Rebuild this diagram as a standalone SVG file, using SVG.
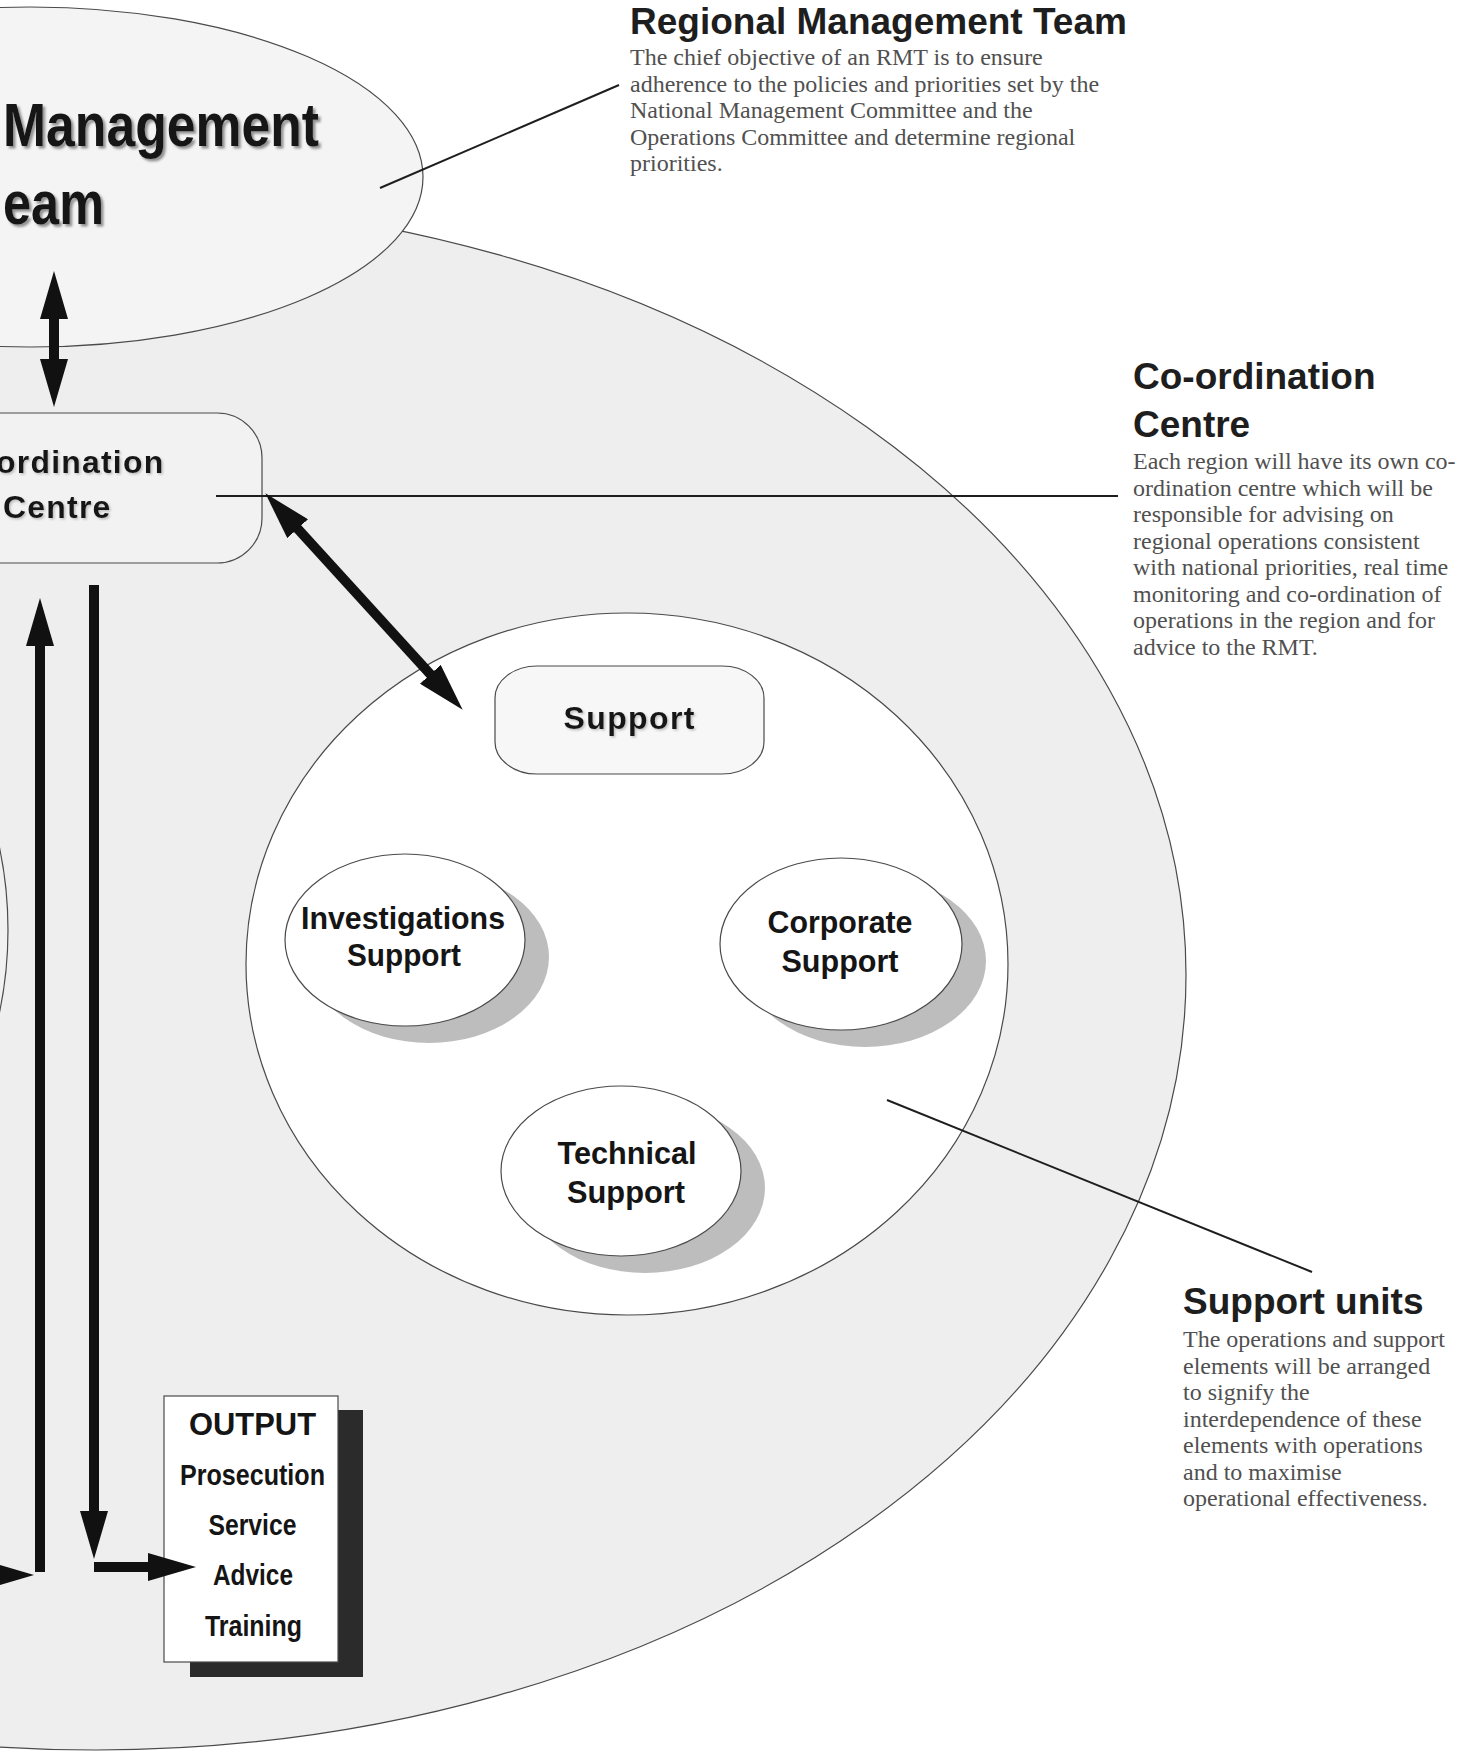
<svg xmlns="http://www.w3.org/2000/svg" width="1468" height="1755" viewBox="0 0 1468 1755">
<defs>
<style>
.outline{stroke:#4a4a4a;stroke-width:1.2}
.h{font-family:"Liberation Sans",Arial,sans-serif;font-weight:bold;font-size:37px;fill:#1e1e1e}
.b{font-family:"Liberation Serif","Times New Roman",serif;font-size:24px;fill:#505050}
.n{font-family:"Liberation Sans",Arial,sans-serif;font-weight:bold;fill:#151515}
.lab{font-size:32px;text-anchor:middle}
.out{font-size:29px;text-anchor:middle}
.callout{stroke:#1e1e1e;stroke-width:2;fill:none}
.arrow{stroke:#111;stroke-width:10;fill:none;marker-end:url(#head)}
.shadow{fill:#bdbdbd}
</style>
<marker id="head" markerUnits="userSpaceOnUse" markerWidth="50" markerHeight="28" refX="1" refY="14" orient="auto-start-reverse"><path d="M0,0 L48,14 L0,28 z" fill="#111"/></marker>
<filter id="ts" x="-5%" y="-20%" width="115%" height="150%"><feDropShadow dx="2.5" dy="2.5" stdDeviation="1.2" flood-color="#777" flood-opacity="0.8"/></filter>
<filter id="ts2" x="-5%" y="-20%" width="115%" height="150%"><feDropShadow dx="1.5" dy="1.5" stdDeviation="0.8" flood-color="#999" flood-opacity="0.6"/></filter>
</defs>
<rect x="0" y="0" width="1468" height="1755" fill="#ffffff"/>

<g id="region">
<ellipse class="outline" cx="96" cy="975" rx="1090" ry="775" fill="#eeeeee"/>
</g>
<g id="operations">
<ellipse class="outline" cx="-200" cy="930" rx="208" ry="291" fill="#f1f1f1"/>
</g>
<g id="rmt">
<ellipse class="outline" cx="30" cy="177" rx="393" ry="170" fill="#f4f4f4"/>
<text class="n" x="3" y="146" font-size="62" textLength="316" lengthAdjust="spacingAndGlyphs" filter="url(#ts)">Management</text>
<text class="n" x="3" y="224" font-size="62" textLength="101" lengthAdjust="spacingAndGlyphs" filter="url(#ts)">eam</text>
</g>
<g id="coord">
<rect class="outline" x="-60" y="413" width="322" height="150" rx="45" ry="45" fill="#f2f2f2"/>
<text class="n" x="-4" y="473" font-size="32" letter-spacing="1.2" filter="url(#ts2)">ordination</text>
<text class="n" x="3" y="518" font-size="32" letter-spacing="1.2" filter="url(#ts2)">Centre</text>
</g>
<g id="support-units">
<ellipse class="outline" cx="627" cy="964" rx="381" ry="351" fill="#ffffff"/>
</g>
<g id="support">
<rect class="outline" x="495" y="666" width="269" height="108" rx="42" ry="32" fill="#f7f7f7"/>
<text class="n" x="629" y="729" font-size="32" text-anchor="middle" textLength="131" lengthAdjust="spacing" filter="url(#ts2)">Support</text>
</g>
<g id="investigations">
<ellipse class="shadow" cx="429" cy="957" rx="120" ry="86"/>
<ellipse class="outline" cx="405" cy="940" rx="120" ry="86" fill="#ffffff"/>
<text class="n lab" x="403" y="929" textLength="204" lengthAdjust="spacingAndGlyphs">Investigations</text>
<text class="n lab" x="404" y="966" textLength="114" lengthAdjust="spacingAndGlyphs">Support</text>
</g>
<g id="corporate">
<ellipse class="shadow" cx="865" cy="961" rx="121" ry="86"/>
<ellipse class="outline" cx="841" cy="944" rx="121" ry="86" fill="#ffffff"/>
<text class="n lab" x="840" y="933" textLength="145" lengthAdjust="spacingAndGlyphs">Corporate</text>
<text class="n lab" x="840" y="972" textLength="117" lengthAdjust="spacingAndGlyphs">Support</text>
</g>
<g id="technical">
<ellipse class="shadow" cx="645" cy="1188" rx="120" ry="85"/>
<ellipse class="outline" cx="621" cy="1171" rx="120" ry="85" fill="#ffffff"/>
<text class="n lab" x="627" y="1164" textLength="139" lengthAdjust="spacingAndGlyphs">Technical</text>
<text class="n lab" x="626" y="1203" textLength="118" lengthAdjust="spacingAndGlyphs">Support</text>
</g>
<g id="output">
<rect x="190" y="1410" width="173" height="267" fill="#2b2b2b"/>
<rect class="outline" x="164" y="1396" width="174" height="266" fill="#ffffff"/>
<text class="n" x="252.5" y="1435" font-size="31" text-anchor="middle" textLength="127" lengthAdjust="spacingAndGlyphs">OUTPUT</text>
<text class="n out" x="252.5" y="1485" textLength="145" lengthAdjust="spacingAndGlyphs">Prosecution</text>
<text class="n out" x="252.5" y="1535" textLength="88" lengthAdjust="spacingAndGlyphs">Service</text>
<text class="n out" x="253" y="1585" textLength="80" lengthAdjust="spacingAndGlyphs">Advice</text>
<text class="n out" x="253.5" y="1636" textLength="97" lengthAdjust="spacingAndGlyphs">Training</text>
</g>

<g id="connectors">
<line class="callout" x1="380" y1="188" x2="619" y2="85"/>
<line class="callout" x1="216" y1="496" x2="1118" y2="496"/>
<line class="callout" x1="887" y1="1100" x2="1312" y2="1272"/>
<line class="arrow" x1="54" y1="318" x2="54" y2="360" stroke-width="8" marker-start="url(#head)"/>
<line class="arrow" x1="297" y1="528" x2="431" y2="675" marker-start="url(#head)"/>
<line class="arrow" x1="40" y1="1572" x2="40" y2="645"/>
<line class="arrow" x1="94" y1="585" x2="94" y2="1512"/>
<line class="arrow" x1="94" y1="1567" x2="149" y2="1567"/>
<line class="arrow" x1="-40" y1="1575" x2="-13" y2="1575"/>
</g>

<g id="note-rmt">
<text class="h" x="630" y="34">Regional Management Team</text>
<text class="b" x="630" y="65">The chief objective of an RMT is to ensure</text>
<text class="b" x="630" y="91.5">adherence to the policies and priorities set by the</text>
<text class="b" x="630" y="118">National Management Committee and the</text>
<text class="b" x="630" y="144.5">Operations Committee and determine regional</text>
<text class="b" x="630" y="171">priorities.</text>
</g>
<g id="note-coord">
<text class="h" x="1133" y="389">Co-ordination</text>
<text class="h" x="1133" y="437">Centre</text>
<text class="b" x="1133" y="469">Each region will have its own co-</text>
<text class="b" x="1133" y="495.5">ordination centre which will be</text>
<text class="b" x="1133" y="522">responsible for advising on</text>
<text class="b" x="1133" y="548.5">regional operations consistent</text>
<text class="b" x="1133" y="575">with national priorities, real time</text>
<text class="b" x="1133" y="601.5">monitoring and co-ordination of</text>
<text class="b" x="1133" y="628">operations in the region and for</text>
<text class="b" x="1133" y="654.5">advice to the RMT.</text>
</g>
<g id="note-support">
<text class="h" x="1183" y="1314">Support units</text>
<text class="b" x="1183" y="1347">The operations and support</text>
<text class="b" x="1183" y="1373.5">elements will be arranged</text>
<text class="b" x="1183" y="1400">to signify the</text>
<text class="b" x="1183" y="1426.5">interdependence of these</text>
<text class="b" x="1183" y="1453">elements with operations</text>
<text class="b" x="1183" y="1479.5">and to maximise</text>
<text class="b" x="1183" y="1506">operational effectiveness.</text>
</g>
</svg>
